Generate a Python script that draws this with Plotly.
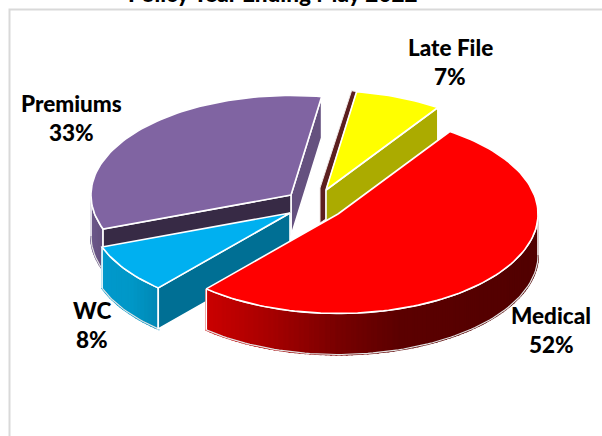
import math
import plotly.graph_objects as go

categories = ["Premiums", "Late File", "Medical", "WC"]
values = [33, 7, 52, 8]
title_text = "Policy Year Ending May 2022"

# layout of the exploded pie (pixel space)
centres = {"Premiums": (291, 195), "Late File": (326, 190), "Medical": (338, 214), "WC": (290, 213)}
A, B, DEPTH = 200, 99.5, 41
START = 200.0  # Premiums' left edge, in parametric degrees, going clockwise
top_colour = {"Premiums": "#8064A2", "Late File": "#FFFF00", "Medical": "#FF0000", "WC": "#00B0F0"}
cut_start = {"Premiums": "#372A45", "Late File": "#5C1F1F", "Medical": "#990000", "WC": "#006F94"}
cut_end = {"Premiums": "#65517F", "Late File": "#ABAB00", "Medical": "#990000", "WC": "#006F94"}
rim_stops = {
    "Premiums": [(91, "#6E5A8C"), (103, "#64507F")],
    "Late File": [(0, "#ABAB00"), (602, "#ABAB00")],
    "Medical": [(207, "#CC0000"), (270, "#A80000"), (340, "#780000"), (400, "#5C0000"), (480, "#560000"), (538, "#520000")],
    "WC": [(103, "#0099CC"), (130, "#0098C8"), (158, "#0088B5")],
}
WHITE = "#FFFFFF"

total = sum(values)
angles = {}
a0 = START
for c, v in zip(categories, values):
    a1 = a0 - 360 * v / total
    angles[c] = (a0, a1)
    a0 = a1


def pt(c, t):
    cx, cy = centres[c]
    r = math.radians(t)
    return cx + A * math.cos(r), cy - B * math.sin(r)


def arc(c, t0, t1, n=None):
    n = n or max(2, int(abs(t1 - t0) / 1.5))
    return [pt(c, t0 + (t1 - t0) * i / n) for i in range(n + 1)]


def hex2rgb(h):
    return tuple(int(h[i:i + 2], 16) for i in (1, 3, 5))


def rim_colour(c, x):
    s = rim_stops[c]
    if x <= s[0][0]:
        return s[0][1]
    for (x0, h0), (x1, h1) in zip(s, s[1:]):
        if x <= x1:
            f = (x - x0) / (x1 - x0)
            a, b = hex2rgb(h0), hex2rgb(h1)
            return "rgb(%d,%d,%d)" % tuple(a[i] + (b[i] - a[i]) * f for i in range(3))
    return s[-1][1]


fig = go.Figure()


def poly(points, fill, line=WHITE, width=1.6):
    xs = [p[0] for p in points] + [points[0][0]]
    ys = [p[1] for p in points] + [points[0][1]]
    fig.add_trace(go.Scatter(x=xs, y=ys, mode="lines", fill="toself", fillcolor=fill,
                             line=dict(color=line, width=width), hoverinfo="skip", showlegend=False))


def open_line(points, colour=WHITE, width=1.6):
    fig.add_trace(go.Scatter(x=[p[0] for p in points], y=[p[1] for p in points], mode="lines",
                             line=dict(color=colour, width=width), hoverinfo="skip", showlegend=False))


def down(p):
    return p[0], p[1] + DEPTH


def rim(c, t0, t1):
    pts = arc(c, t0, t1)
    for p, q in zip(pts, pts[1:]):
        col = rim_colour(c, (p[0] + q[0]) / 2)
        poly([p, q, down(q), down(p)], col, line=col, width=2)
    open_line([down(p) for p in pts], "#E4E4E4", 1.2)
    open_line(pts)
    open_line([pts[0], down(pts[0])])
    open_line([pts[-1], down(pts[-1])])


def cut(c, t, colour):
    apex = centres[c]
    p = pt(c, t)
    poly([apex, p, down(p), down(apex)], colour)


def top(c):
    a0, a1 = angles[c]
    poly([centres[c]] + arc(c, a0, a1), top_colour[c])


# Premiums (back-left)
c = "Premiums"
a0, a1 = angles[c]
rim(c, 180, a0)
cut(c, a1, cut_end[c])
cut(c, a0, cut_start[c])
top(c)

# Late File with its thin dark sliver on the left
c = "Late File"
a0, a1 = angles[c]
apex = centres[c]
p = pt(c, a0)
poly([p, (p[0] - 5, p[1] - 1), (apex[0] - 6, apex[1] - 2), (apex[0] - 6, apex[1] + 33),
      (apex[0], apex[1] + 29), apex], cut_start[c], line="#F0E8E8", width=1)
cut(c, a1, cut_end[c])
top(c)

# WC
c = "WC"
a0, a1 = angles[c]
rim(c, a0, a1)
cut(c, a0, cut_end[c])
top(c)

# Medical
c = "Medical"
a0, a1 = angles[c]
rim(c, a1, 0)
top(c)

labels = {"Late File": (450, 47.5), "Premiums": (71, 103), "WC": (92, 310), "Medical": (551, 315)}
GAP = 29
ann = []
font = dict(family="Lato, Carlito, sans-serif", size=22.5, color="#000000", weight=900)
for cat, v in zip(categories, values):
    x, y = labels[cat]
    ann.append(dict(x=x, y=y, text=cat, showarrow=False, xanchor="center", yanchor="middle", font=font))
    ann.append(dict(x=x, y=y + GAP, text="%d%%" % v, showarrow=False, xanchor="center", yanchor="middle", font=font))
ann.append(dict(x=273, y=9, text=title_text, showarrow=False, xanchor="center", yanchor="bottom",
                font=dict(family="Lato, Carlito, sans-serif", size=22.5, color="#000000", weight=900)))

fig.update_layout(
    width=602, height=436, margin=dict(l=0, r=0, t=0, b=0),
    paper_bgcolor="#FFFFFF", plot_bgcolor="#FFFFFF", showlegend=False,
    xaxis=dict(range=[0, 602], visible=False, fixedrange=True),
    yaxis=dict(range=[436, 0], visible=False, fixedrange=True),
    annotations=ann,
    shapes=[dict(type="rect", x0=9.5, y0=9.5, x1=640, y1=480, xref="x", yref="y",
                 line=dict(color="#D9D9D9", width=2), layer="below")],
)
fig.write_html("out.html", config={"displayModeBar": False},
               post_script="document.body.style.margin='0';document.body.style.overflow='hidden';")
